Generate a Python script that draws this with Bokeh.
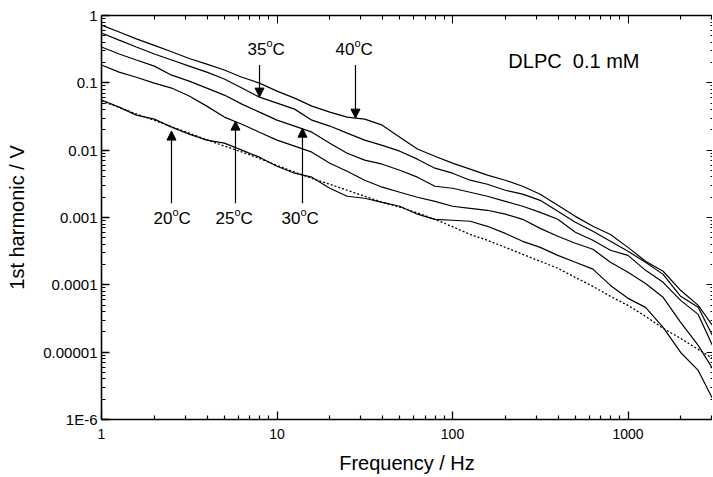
from bokeh.plotting import figure
from bokeh.models import LogAxis, FixedTicker, Label, Arrow, NormalHead, Range1d
from bokeh.embed import file_html
from bokeh.resources import INLINE

# ---------------- data ----------------
freq = [1, 1.26, 1.58, 2.0, 2.51, 3.16, 3.98, 5.01, 6.31, 7.94,
        10, 12.6, 15.8, 20.0, 25.1, 31.6, 39.8, 50.1, 63.1, 79.4,
        100, 126, 158, 200, 251, 316, 398, 501, 631, 794,
        1000, 1259, 1585, 1995, 2512, 3030]

v40 = [0.72, 0.57, 0.45, 0.36, 0.29, 0.23, 0.19, 0.155, 0.121, 0.099,
       0.0754, 0.0593, 0.0451, 0.0367, 0.031, 0.0289, 0.0235, 0.0156, 0.0104, 0.00814,
       0.00641, 0.00522, 0.00425, 0.00358, 0.00291, 0.00222, 0.00152, 0.00104, 0.00074, 0.00056,
       0.00036, 0.000224, 0.000159, 8.3e-5, 4.95e-5, 2.5e-5]
v35 = [0.55, 0.43, 0.34, 0.268, 0.218, 0.177, 0.144, 0.114, 0.0836, 0.0614,
       0.05, 0.0407, 0.0279, 0.0228, 0.0179, 0.0141, 0.0118, 0.00966, 0.00735, 0.0054,
       0.00455, 0.00358, 0.00312, 0.00254, 0.00222, 0.0018, 0.00124, 0.00085, 0.000624, 0.000443,
       0.000315, 0.000216, 0.000143, 6.75e-5, 4.63e-5, 1.77e-5]
v30 = [0.34, 0.268, 0.218, 0.177, 0.13, 0.106, 0.0836, 0.0658, 0.0483, 0.0367,
       0.0279, 0.0228, 0.0185, 0.0127, 0.00902, 0.0071, 0.00619, 0.00504, 0.00397, 0.00291,
       0.00272, 0.00237, 0.00207, 0.00174, 0.00147, 0.00119, 0.00094, 0.000603, 0.000459, 0.000326,
       0.000274, 0.000164, 0.000109, 5.88e-5, 3.64e-5, 1.26e-5]
v25 = [0.184, 0.144, 0.121, 0.099, 0.0836, 0.0636, 0.0451, 0.031, 0.0243, 0.0185,
       0.0141, 0.0115, 0.00934, 0.00641, 0.00487, 0.00358, 0.00282, 0.00237, 0.002, 0.00174,
       0.00147, 0.00137, 0.00128, 0.00112, 0.00094, 0.00069, 0.000527, 0.000415, 0.000337, 0.000216,
       0.000154, 0.000105, 6.52e-5, 2.77e-5, 1.26e-5, 5.73e-6]
v20 = [0.0555, 0.0436, 0.0331, 0.0289, 0.022, 0.0173, 0.0141, 0.0127, 0.01, 0.00787,
       0.00578, 0.00455, 0.00397, 0.00272, 0.00207, 0.00193, 0.00168, 0.00147, 0.00112, 0.00094,
       0.00091, 0.00088, 0.00074, 0.00058, 0.000443, 0.00036, 0.000274, 0.000216, 0.000171, 9.8e-5,
       6.3e-5, 4.63e-5, 2.33e-5, 9.9e-6, 5.36e-6, 2.05e-6]
vfit = [0.0538, 0.0431, 0.0345, 0.0277, 0.0223, 0.0179, 0.0143, 0.0115, 0.0094, 0.00755,
        0.00594, 0.00472, 0.00382, 0.00312, 0.00254, 0.00207, 0.00168, 0.00142, 0.00117, 0.00094,
        0.00073, 0.00056, 0.00046, 0.00036, 0.000284, 0.000224, 0.000176, 0.000129, 9.5e-5, 6.75e-5,
        4.95e-5, 3.4e-5, 2.26e-5, 1.6e-5, 1.1e-5, 8.07e-6]

x_ticks = [1, 10, 100, 1000]
x_tick_labels = ["1", "10", "100", "1000"]
y_ticks = [1, 0.1, 0.01, 0.001, 0.0001, 0.00001, 0.000001]
y_tick_labels = ["1", "0.1", "0.01", "0.001", "0.0001", "0.00001", "1E-6"]

temps = ["20", "25", "30", "35", "40"]
# arrow annotation: frequency, start voltage, end voltage
arrow_f = [2.505, 5.80, 13.97, 7.95, 28.0]
arrow_v0 = [0.00163, 0.00163, 0.00163, 0.1836, 0.1836]
arrow_v1 = [0.0192, 0.0270, 0.0212, 0.0614, 0.0299]
label_v = [0.000975, 0.000975, 0.000975, 0.318, 0.318]
label_dx = [-18, -20, -21, -12, -20]

FONT = "Liberation Sans"

x_minor = [m * d for d in (1, 10, 100, 1000) for m in range(2, 10) if m * d <= 3030]
y_minor = [m * d for d in (1e-6, 1e-5, 1e-4, 1e-3, 1e-2, 1e-1) for m in range(2, 10)]

p = figure(frame_width=611, frame_height=404,
           x_axis_type="log", y_axis_type="log",
           x_range=Range1d(1, 3030), y_range=Range1d(1e-6, 1),
           output_backend="svg", toolbar_location=None,
           min_border_left=101, min_border_right=0,
           min_border_top=15, min_border_bottom=58,
           background_fill_color="white", border_fill_color="white")
p.xgrid.visible = False
p.ygrid.visible = False
p.outline_line_color = None

for s in (v20, v25, v30, v35, v40):
    p.line(freq, s, line_color="black", line_width=1.2)
p.line(freq, vfit, line_color="black", line_width=1.3, line_dash="2 2")

xa = p.xaxis[0]
ya = p.yaxis[0]
xa.ticker = FixedTicker(ticks=x_ticks, minor_ticks=x_minor)
ya.ticker = FixedTicker(ticks=y_ticks, minor_ticks=y_minor)
xa.major_label_overrides = dict(zip(x_ticks, x_tick_labels))
ya.major_label_overrides = dict(zip(y_ticks, y_tick_labels))
xa.axis_label = "Frequency / Hz"
ya.axis_label = "1st harmonic / V"
for ax, fs in ((xa, "14px"), (ya, "15px")):
    ax.axis_line_width = 1.6
    ax.axis_line_color = "black"
    ax.major_tick_in = 8
    ax.major_tick_out = 0
    ax.minor_tick_in = 4
    ax.minor_tick_out = 0
    ax.major_tick_line_color = "black"
    ax.minor_tick_line_color = "black"
    ax.major_tick_line_width = 1.3
    ax.minor_tick_line_width = 1.2
    ax.major_label_text_font = FONT
    ax.major_label_text_font_size = fs
    ax.major_label_text_color = "black"
    ax.axis_label_text_font = FONT
    ax.axis_label_text_font_size = "20px"
    ax.axis_label_text_font_style = "normal"
    ax.axis_label_text_color = "black"
xa.major_label_standoff = 9
ya.major_label_standoff = 4
xa.axis_label_standoff = 10
ya.axis_label_standoff = 12

top = LogAxis(ticker=FixedTicker(ticks=x_ticks, minor_ticks=x_minor))
right = LogAxis(ticker=FixedTicker(ticks=y_ticks, minor_ticks=y_minor))
for ax in (top, right):
    ax.major_label_text_font_size = "1px"
    ax.major_label_text_alpha = 0
    ax.major_label_standoff = 0
    ax.major_tick_out = 0
    ax.minor_tick_out = 0
    ax.major_tick_line_color = "black"
    ax.minor_tick_line_color = "black"
top.axis_line_width = 1.5
top.major_tick_in = 8
top.minor_tick_in = 4
right.axis_line_width = 1
right.axis_line_dash = "1 1"
right.major_tick_in = 6
right.minor_tick_in = 2
p.add_layout(top, "above")
p.add_layout(right, "right")

for t, f, a0, a1, lv, dx in zip(temps, arrow_f, arrow_v0, arrow_v1, label_v, label_dx):
    p.add_layout(Arrow(x_start=f, y_start=a0, x_end=f, y_end=a1,
                       line_color="black", line_width=1.2,
                       end=NormalHead(size=9, fill_color="black", line_color="black")))
    common = dict(x=f, y=lv, text_align="left", text_baseline="middle",
                  text_font=FONT, text_color="black")
    p.add_layout(Label(text=t, x_offset=dx, text_font_size="17px", **common))
    p.add_layout(Label(text="o", x_offset=dx + 19, y_offset=6, text_font_size="11px", **common))
    p.add_layout(Label(text="C", x_offset=dx + 25, text_font_size="17px", **common))

p.add_layout(Label(x=208, y=0.21, text="DLPC\u00a0\u00a00.1 mM", text_align="left",
                   text_baseline="middle", text_font=FONT, text_font_size="20px",
                   text_color="black"))

open("out.html", "w").write(file_html(p, INLINE))
